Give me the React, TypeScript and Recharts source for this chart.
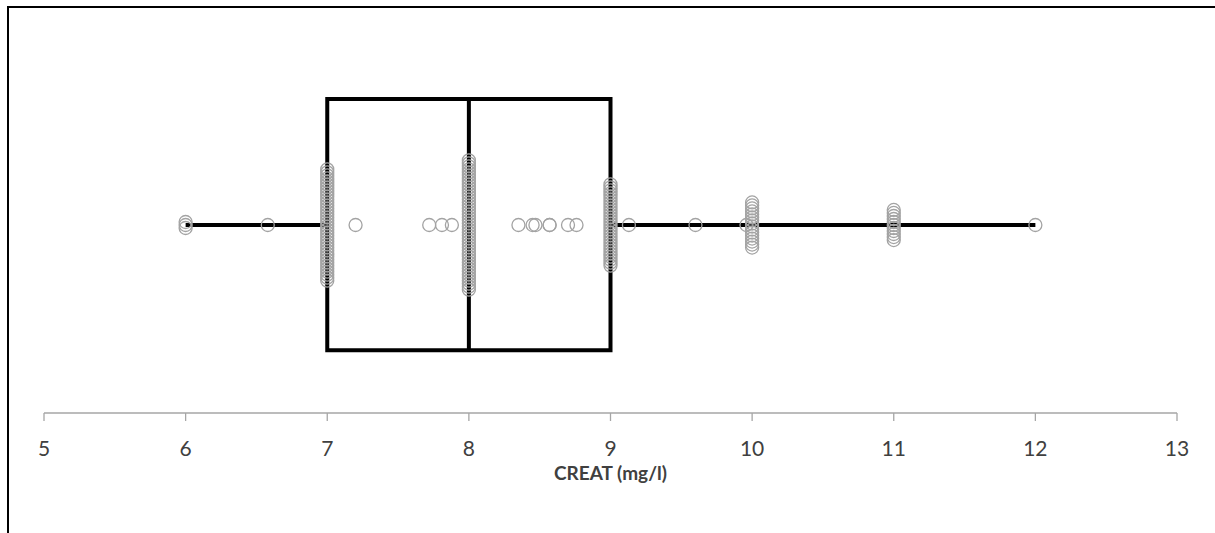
import { ComposedChart, ReferenceArea, ReferenceLine, Scatter, XAxis, YAxis } from 'recharts';

// Box plot summary for CREAT (mg/l)
const boxMin = 6;
const boxQ1 = 7;
const boxMedian = 8;
const boxQ3 = 9;
const boxMax = 12;

// Observed values and how many times each one occurs
const creatValues = [6, 6.58, 7, 7.2, 7.72, 7.81, 7.88, 8, 8.35, 8.45, 8.47, 8.57, 8.57, 8.7, 8.76, 9, 9.13, 9.6, 9.96, 10, 11, 12];
const creatCounts = [3, 1, 38, 1, 1, 1, 1, 44, 1, 1, 1, 1, 1, 1, 1, 28, 1, 1, 1, 16, 11, 1];

const xTicks = [5, 6, 7, 8, 9, 10, 11, 12, 13];

// vertical layout of the plot (hidden y axis, 0..100)
const CENTER = 50;
const BOX_LOW = 16.7;
const BOX_HIGH = 83.5;
const STACK_STEP = 0.8;

// repeated values are stacked vertically around the centre line
const points = creatValues.flatMap((value, i) => {
  const n = creatCounts[i];
  return Array.from({ length: n }, (_, k) => ({
    x: value,
    y: CENTER + (k - (n - 1) / 2) * STACK_STEP,
  }));
});

const FONT = 'Lato, "Liberation Sans", sans-serif';

const Ring = (props: any) => {
  const { cx, cy } = props;
  if (cx == null || cy == null) return null;
  return <circle cx={cx} cy={cy} r={6.5} fill="none" stroke="#a3a3a3" strokeWidth={1.3} />;
};

export default function App() {
  return (
    <div style={{ position: 'absolute', left: 0, top: 0, width: 1215, height: 533, background: '#fff', overflow: 'hidden' }}>
      <div style={{ position: 'absolute', left: 7, top: 6, width: 1215, height: 540, borderLeft: '2px solid #000', borderTop: '2px solid #000' }} />
      <ComposedChart
        width={1215}
        height={533}
        data={points}
        margin={{ top: 37, right: 38, bottom: 80, left: 44 }}
        style={{ position: 'absolute', left: 0, top: 0 }}
      >
        <XAxis
          type="number"
          dataKey="x"
          domain={[5, 13]}
          ticks={xTicks}
          interval={0}
          allowDataOverflow
          axisLine={{ stroke: '#a6a6a6', strokeWidth: 1.3 }}
          tickLine={{ stroke: '#a6a6a6', strokeWidth: 1.3 }}
          tickSize={8}
          tickMargin={20}
          tick={{ fill: '#404040', fontSize: 21, fontFamily: FONT }}
          height={40}
          label={{
            value: 'CREAT (mg/l)',
            position: 'bottom',
            offset: 14,
            fill: '#404040',
            fontSize: 19,
            fontWeight: 'bold',
            fontFamily: FONT,
          }}
        />
        <YAxis type="number" dataKey="y" domain={[0, 100]} hide />
        <ReferenceArea
          x1={boxQ1}
          x2={boxQ3}
          y1={BOX_LOW}
          y2={BOX_HIGH}
          fill="none"
          fillOpacity={0}
          stroke="#000"
          strokeWidth={4}
          ifOverflow="visible"
        />
        <ReferenceLine
          segment={[{ x: boxMedian, y: BOX_LOW }, { x: boxMedian, y: BOX_HIGH }]}
          stroke="#000"
          strokeWidth={4}
        />
        <ReferenceLine
          segment={[{ x: boxMin, y: CENTER }, { x: boxQ1, y: CENTER }]}
          stroke="#000"
          strokeWidth={4}
        />
        <ReferenceLine
          segment={[{ x: boxQ3, y: CENTER }, { x: boxMax, y: CENTER }]}
          stroke="#000"
          strokeWidth={4}
        />
        <Scatter data={points} dataKey="y" shape={Ring} isAnimationActive={false} />
      </ComposedChart>
    </div>
  );
}
